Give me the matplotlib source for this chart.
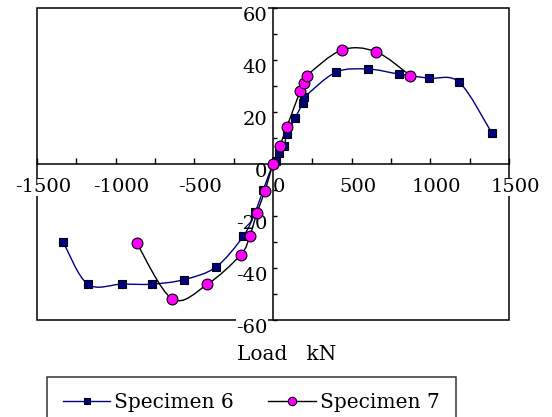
import numpy as np
import matplotlib
matplotlib.use('Agg')
import matplotlib.pyplot as plt
from matplotlib.path import Path
from matplotlib.patches import PathPatch, Rectangle
from matplotlib.lines import Line2D
import matplotlib.transforms as mtransforms
from matplotlib import rcParams

rcParams['font.family'] = 'DejaVu Serif'
rcParams['font.size'] = 14
rcParams['axes.unicode_minus'] = False

# data
s6_x = [-1333, -1178, -960, -767, -568, -364, -189, -114, -62, 0,
        19, 36, 70, 89, 140, 189, 199, 400, 606, 799, 990, 1184, 1392]
s6_y = [-30.1, -46.2, -46.2, -46.2, -44.5, -39.7, -27.8, -18.6, -10.0, 0,
        1.3, 4.2, 7.0, 11.5, 17.6, 23.5, 25.6, 35.3, 36.5, 34.6, 33.0, 31.4, 11.8]
s7_x = [-866, -640, -418, -205, -148, -102, -51, 0,
        44, 89, 174, 199, 216, 436, 653, 873]
s7_y = [-30.4, -51.9, -46.3, -34.9, -27.8, -18.8, -10.3, 0,
        7.0, 14.4, 28.2, 31.2, 34.0, 43.8, 43.2, 34.0]
x_ticks = [-1500, -1000, -500, 0, 500, 1000, 1500]
y_ticks = [-60, -40, -20, 0, 20, 40, 60]


def smooth_path(xs, ys):
    # Excel-like smoothed line: Catmull-Rom as cubic Bezier segments
    p = np.column_stack([xs, ys]).astype(float)
    verts = [p[0]]
    codes = [Path.MOVETO]
    n = len(p)
    for i in range(n - 1):
        p0 = p[i - 1] if i > 0 else p[i]
        p1, p2 = p[i], p[i + 1]
        p3 = p[i + 2] if i + 2 < n else p[i + 1]
        verts += [p1 + (p2 - p0) / 6, p2 - (p3 - p1) / 6, p2]
        codes += [Path.CURVE4] * 3
    return Path(verts, codes)


fig = plt.figure(figsize=(5.52, 4.17), dpi=100)
ax = fig.add_axes([37 / 552, 1 - 320 / 417, 472 / 552, 312 / 417])

ax.set_xlim(-1500, 1500)
ax.set_ylim(-60, 60)

ax.add_patch(PathPatch(smooth_path(s6_x, s6_y), fill=False,
                       edgecolor='#000080', lw=1.0, zorder=3))
ax.plot(s6_x, s6_y, ls='none', marker='s', ms=6, mfc='#000080',
        mec='black', mew=0.8, zorder=4)
ax.add_patch(PathPatch(smooth_path(s7_x, s7_y), fill=False,
                       edgecolor='black', lw=1.0, zorder=3))
ax.plot(s7_x, s7_y, ls='none', marker='o', ms=7.8, mfc='#FF00FF',
        mec='black', mew=0.8, zorder=4)

# axes through zero, outer frame
for s in ['top', 'right']:
    ax.spines[s].set_visible(False)
ax.spines['left'].set_position(('data', 0))
ax.spines['bottom'].set_position(('data', 0))
ax.spines['left'].set_linewidth(1.1)
ax.spines['bottom'].set_linewidth(1.1)
ax.add_patch(Rectangle((0, 0), 1, 1, transform=ax.transAxes, fill=False,
                       lw=1.1, edgecolor='black', clip_on=False, zorder=1))

ax.set_xticks(x_ticks)
ax.set_xticks(np.arange(-1250, 1500, 500), minor=True)
ax.set_yticks(y_ticks)
ax.set_yticks(np.arange(-50, 60, 20), minor=True)
ax.tick_params(axis='x', which='both', direction='in', length=4.5,
               width=1, pad=10)
ax.tick_params(axis='y', which='both', direction='in', length=3,
               width=1, pad=4)

dx = mtransforms.ScaledTranslation(6 / 100, 0, fig.dpi_scale_trans)
dy = mtransforms.ScaledTranslation(0, -6 / 100, fig.dpi_scale_trans)
for lab in ax.get_xticklabels():
    lab.set_transform(lab.get_transform() + dx)
    lab.set_bbox(dict(facecolor='white', edgecolor='none', pad=0.3))
for lab in ax.get_yticklabels():
    lab.set_transform(lab.get_transform() + dy)
    lab.set_bbox(dict(facecolor='white', edgecolor='none', pad=0.3))

fig.text(287 / 552, 1 - 354 / 417, 'Load   kN', ha='center', va='center',
         fontsize=14.5)

handles = [
    Line2D([], [], color='#000080', lw=1.0, marker='s', ms=4.5,
           mfc='#000080', mec='black', mew=0.8),
    Line2D([], [], color='black', lw=1.0, marker='o', ms=6,
           mfc='#FF00FF', mec='black', mew=0.8),
]
leg = fig.legend(handles, ['Specimen 6', 'Specimen 7'], ncol=2,
                 loc='upper left', bbox_to_anchor=(47 / 552, 1 - 377 / 417),
                 borderaxespad=0, frameon=True, fancybox=False,
                 edgecolor='black', handlelength=2.35, handletextpad=0.2,
                 columnspacing=1.7, borderpad=0.8, fontsize=14.5)
leg.get_frame().set_linewidth(1.1)

fig.savefig('out.png', dpi=100)
